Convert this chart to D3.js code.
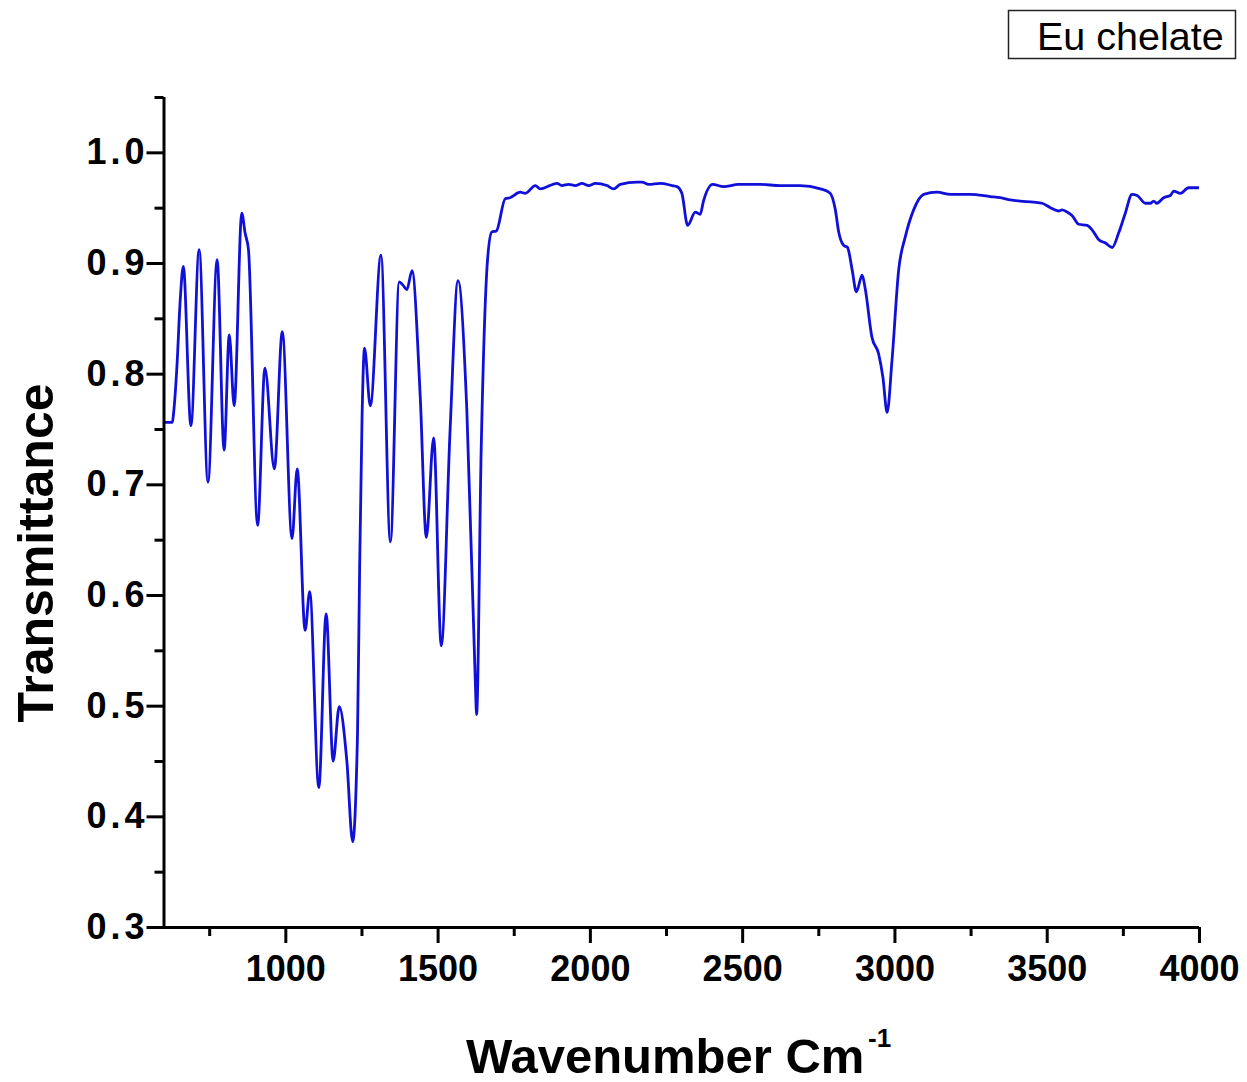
<!DOCTYPE html>
<html>
<head>
<meta charset="utf-8">
<script src="https://cdn.jsdelivr.net/npm/d3@7"></script>
<style>
  html, body { margin: 0; padding: 0; background: #fff; }
  svg { display: block; font-family: Arial, "Liberation Sans", sans-serif; }
</style>
</head>
<body>
<svg id="chart" width="1247" height="1082"></svg>
<script>
// FTIR spectrum of the Eu chelate: wavenumber (cm^-1) and transmittance
const wavenumber = [
  600, 629, 633, 644, 655, 665, 690, 717, 746, 776, 799, 816, 832, 857, 868, 879,
  909, 933, 964, 990, 1022, 1039, 1065, 1080, 1110, 1134, 1157, 1177, 1202, 1221,
  1237, 1244, 1252, 1260, 1279, 1314, 1345, 1374, 1386, 1399, 1416, 1443, 1463,
  1487, 1512, 1541, 1567, 1596, 1624, 1628, 1643, 1664, 1678, 1693, 1722, 1738,
  1771, 1788, 1821, 1837, 1892, 1908, 1930, 1952, 1974, 1996, 2018, 2056, 2078,
  2100, 2155, 2171, 2193, 2231, 2270, 2286, 2302, 2321, 2346, 2362, 2373, 2403,
  2439, 2488, 2560, 2625, 2690, 2757, 2789, 2806, 2817, 2833, 2846, 2861, 2875,
  2894, 2904, 2926, 2948, 2962, 2976, 2992, 3014, 3036, 3063, 3096, 3140, 3184,
  3216, 3249, 3315, 3348, 3381, 3413, 3457, 3485, 3512, 3539, 3550, 3567, 3583,
  3605, 3633, 3649, 3671, 3693, 3715, 3736, 3758, 3780, 3797, 3824, 3840, 3851,
  3862, 3884, 3906, 3917, 3939, 3966, 4000
];
const transmittance = [
  0.756, 0.756, 0.764, 0.806, 0.867, 0.897, 0.753, 0.912, 0.702, 0.903, 0.731, 0.835, 0.771, 0.945, 0.927, 0.912,
  0.663, 0.805, 0.714, 0.838, 0.651, 0.714, 0.568, 0.603, 0.426, 0.583, 0.450, 0.499, 0.450, 0.377,
  0.474, 0.625, 0.761, 0.823, 0.771, 0.907, 0.648, 0.883, 0.880, 0.876, 0.893, 0.779, 0.652,
  0.742, 0.554, 0.749, 0.884, 0.767, 0.520, 0.492, 0.730, 0.903, 0.928, 0.929, 0.958, 0.959,
  0.964, 0.963, 0.970, 0.967, 0.972, 0.970, 0.971, 0.970, 0.972, 0.970, 0.972, 0.970, 0.967,
  0.971, 0.973, 0.973, 0.971, 0.972, 0.970, 0.969, 0.963, 0.934, 0.946, 0.944, 0.956, 0.971,
  0.969, 0.971, 0.971, 0.970, 0.970, 0.967, 0.963, 0.948, 0.928, 0.916, 0.914, 0.894, 0.874,
  0.889, 0.877, 0.833, 0.818, 0.797, 0.765, 0.812, 0.894, 0.924, 0.948, 0.962, 0.964, 0.962,
  0.962, 0.962, 0.960, 0.959, 0.957, 0.956, 0.955, 0.954, 0.950, 0.947, 0.948, 0.946, 0.943,
  0.935, 0.934, 0.930, 0.921, 0.918, 0.914, 0.927, 0.945, 0.962, 0.961, 0.954, 0.954, 0.956,
  0.954, 0.959, 0.961, 0.965, 0.963, 0.968, 0.968
];
const xMajorTicks = [1000, 1500, 2000, 2500, 3000, 3500, 4000];
const xMinorTicks = [750, 1250, 1750, 2250, 2750, 3250, 3750];
const yMajorTicks = [0.3, 0.4, 0.5, 0.6, 0.7, 0.8, 0.9, 1.0];
const yMinorTicks = [0.35, 0.45, 0.55, 0.65, 0.75, 0.85, 0.95, 1.05];
const seriesName = "Eu chelate";

const svg = d3.select("#chart");
const plot = { left: 163.5, right: 1199, top: 97, bottom: 927 };

const x = d3.scaleLinear().domain([600, 4000]).range([plot.left, plot.right]);
const y = d3.scaleLinear().domain([0.3, 1.05]).range([plot.bottom, plot.top]);

const points = wavenumber.map((w, i) => ({ w, t: transmittance[i] }));

// spectrum trace
svg.append("path")
  .datum(points)
  .attr("fill", "none")
  .attr("stroke", "#1010d8")
  .attr("stroke-width", 2.8)
  .attr("stroke-linejoin", "round")
  .attr("d", d3.line().x(d => x(d.w)).y(d => y(d.t)).curve(d3.curveMonotoneX));

// x axis
const gx = svg.append("g").attr("transform", `translate(0,${plot.bottom})`);
gx.call(d3.axisBottom(x).tickValues(xMinorTicks).tickSize(9).tickFormat(""));
gx.call(g => g.select(".domain").remove());
const gxMaj = svg.append("g").attr("transform", `translate(0,${plot.bottom})`)
  .call(d3.axisBottom(x).tickValues(xMajorTicks).tickSize(16).tickSizeOuter(0).tickPadding(12).tickFormat(d3.format("d")));
gxMaj.select(".domain").attr("d", `M${plot.left - 16},0.5H${plot.right}`);

// y axis
const gy = svg.append("g").attr("transform", `translate(${plot.left},0)`);
gy.call(d3.axisLeft(y).tickValues(yMinorTicks).tickSize(9).tickFormat(""));
gy.call(g => g.select(".domain").remove());
const gyMaj = svg.append("g").attr("transform", `translate(${plot.left},0)`)
  .call(d3.axisLeft(y).tickValues(yMajorTicks).tickSize(17).tickSizeOuter(0).tickPadding(-2).tickFormat(d3.format(".1f")));
gyMaj.select(".domain").attr("d", `M0.5,${plot.top}V${plot.bottom}`);

svg.selectAll(".domain, .tick line").attr("stroke", "#000").attr("stroke-width", 3);
svg.selectAll(".tick text")
  .attr("fill", "#000")
  .style("font-size", "36px")
  .style("font-weight", "bold")
  .style("font-family", "Arial, 'Liberation Sans', sans-serif");
gyMaj.selectAll(".tick text").style("letter-spacing", "4px");

// axis titles
svg.append("text")
  .attr("x", 466)
  .attr("y", 1073)
  .style("font-size", "49px")
  .style("font-weight", "bold")
  .attr("fill", "#000")
  .text("Wavenumber Cm");
svg.append("text")
  .attr("x", 868)
  .attr("y", 1047)
  .style("font-size", "26px")
  .style("font-weight", "bold")
  .attr("fill", "#000")
  .text("-1");

svg.append("text")
  .attr("transform", `translate(53,553) rotate(-90)`)
  .attr("text-anchor", "middle")
  .style("font-size", "50px")
  .style("font-weight", "bold")
  .attr("fill", "#000")
  .text("Transmittance");

// legend
const legend = svg.append("g");
legend.append("rect")
  .attr("x", 1008.5).attr("y", 10.5)
  .attr("width", 227).attr("height", 48)
  .attr("fill", "#fff")
  .attr("stroke", "#222")
  .attr("stroke-width", 1.5);
legend.append("text")
  .attr("x", 1037)
  .attr("y", 50)
  .style("font-size", "39.5px")
  .attr("fill", "#000")
  .text(seriesName);
</script>
</body>
</html>
